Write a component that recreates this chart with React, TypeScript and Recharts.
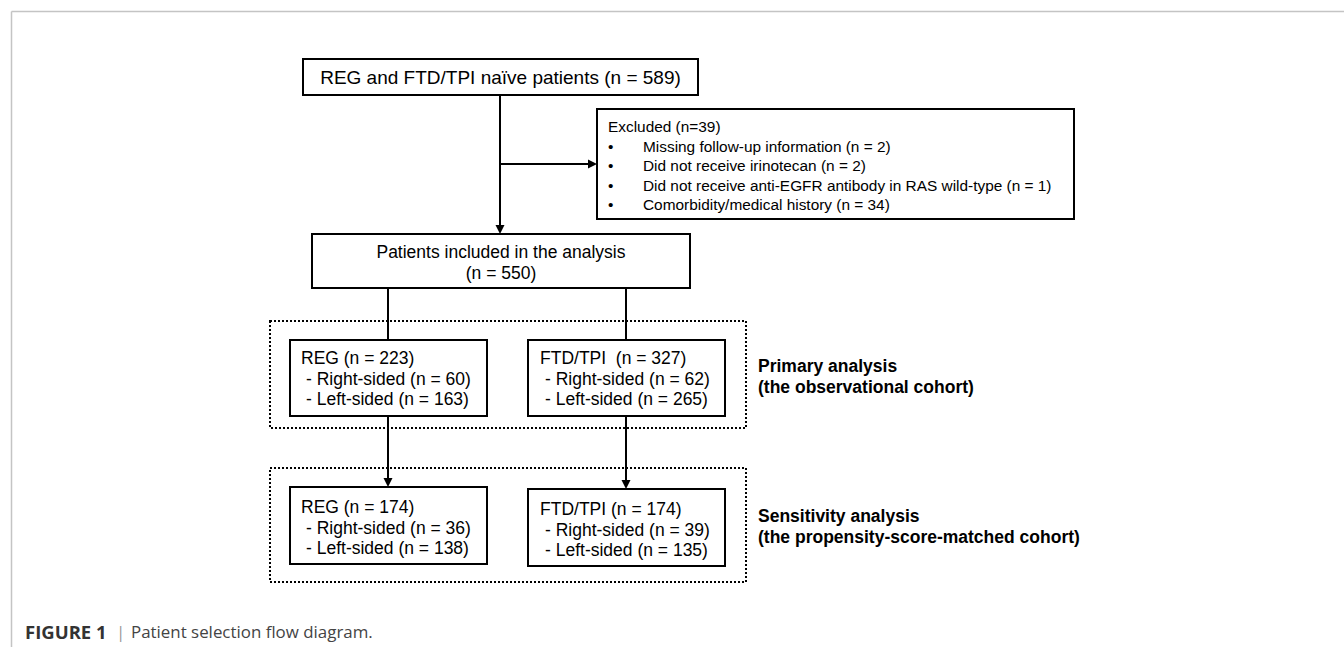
import React from 'react';
import { ScatterChart, Scatter, XAxis, YAxis, ReferenceArea, ReferenceLine } from 'recharts';

// figure content
const naiveTotal = 589;
const excludedTotal = 39;
const excludedReasons = [
    'Missing follow-up information',
    'Did not receive irinotecan',
    'Did not receive anti-EGFR antibody in RAS wild-type',
    'Comorbidity/medical history',
];
const excludedCounts = [2, 2, 1, 34];
const includedTotal = 550;
const armLabels = ['REG', 'FTD/TPI'];
const primaryTotals = [223, 327];
const primaryRight = [60, 62];
const primaryLeft = [163, 265];
const matchedTotals = [174, 174];
const matchedRight = [36, 39];
const matchedLeft = [138, 135];
const cohortTitles = ['Primary analysis', 'Sensitivity analysis'];
const cohortSubtitles = ['(the observational cohort)', '(the propensity-score-matched cohort)'];
const captionLabel = 'FIGURE 1';
const captionText = 'Patient selection flow diagram.';

const W = 1344;
const H = 647;
const FONT = '"Liberation Sans", Arial, Helvetica, sans-serif';
const CAP_FONT = '"Open Sans", Arial, sans-serif';

// layout (pixels = axis units, y axis reversed)
const boxes = [
    { x1: 303, x2: 698, y1: 59, y2: 95 },
    { x1: 597, x2: 1074, y1: 109, y2: 219 },
    { x1: 312, x2: 690, y1: 234, y2: 288 },
    { x1: 290, x2: 487, y1: 340, y2: 416 },
    { x1: 528, x2: 725, y1: 340, y2: 416 },
    { x1: 290, x2: 487, y1: 487, y2: 564 },
    { x1: 528, x2: 725, y1: 489, y2: 566 },
];
const dottedBoxes = [
    { x1: 270, x2: 746, y1: 321, y2: 428 },
    { x1: 270, x2: 746, y1: 468, y2: 582 },
];
const armX = [388, 626];
const connectors = [
    [{ x: 500, y: 95 }, { x: 500, y: 232 }],
    [{ x: 500, y: 164 }, { x: 595, y: 164 }],
    [{ x: armX[0], y: 288 }, { x: armX[0], y: 340 }],
    [{ x: armX[1], y: 288 }, { x: armX[1], y: 340 }],
    [{ x: armX[0], y: 416 }, { x: armX[0], y: 485 }],
    [{ x: armX[1], y: 416 }, { x: armX[1], y: 487 }],
];
const arrowHeads = [
    { x: 500, y: 234, dir: 'down' },
    { x: 597, y: 164, dir: 'right' },
    { x: armX[0], y: 487, dir: 'down' },
    { x: armX[1], y: 489, dir: 'down' },
];

const STYLES: Record<string, any> = {
    top: { fontSize: 19, fill: '#000' },
    box: { fontSize: 17.5, fill: '#000' },
    excl: { fontSize: 15.4, fill: '#000' },
    side: { fontSize: 17.5, fill: '#000', fontWeight: 700 },
    capLabel: { fontSize: 18.5, fill: '#333', fontWeight: 700, fontFamily: CAP_FONT },
    capBar: { fontSize: 17, fill: '#999', fontFamily: CAP_FONT },
    capText: { fontSize: 16.9, fill: '#444', fontFamily: CAP_FONT },
};

const armBoxText = (i: number, tot: number[], right: number[], left: number[], y0: number, gap: string) => {
    const x = i === 0 ? 301 : 540;
    return [
        { x, y: y0, text: `${armLabels[i]}${gap}(n = ${tot[i]})`, kind: 'box', anchor: 'start' },
        { x: x + 5, y: y0 + 20.5, text: `- Right-sided (n = ${right[i]})`, kind: 'box', anchor: 'start' },
        { x: x + 5, y: y0 + 41, text: `- Left-sided (n = ${left[i]})`, kind: 'box', anchor: 'start' },
    ];
};

const texts = [
    { x: 500.5, y: 77, text: `REG and FTD/TPI naïve patients (n = ${naiveTotal})`, kind: 'top', anchor: 'middle' },
    { x: 608, y: 126, text: `Excluded (n=${excludedTotal})`, kind: 'excl', anchor: 'start' },
    ...excludedReasons.flatMap((r, i) => [
        { x: 608, y: 146 + i * 19.5, text: '•', kind: 'excl', anchor: 'start' },
        { x: 643, y: 146 + i * 19.5, text: `${r} (n = ${excludedCounts[i]})`, kind: 'excl', anchor: 'start' },
    ]),
    { x: 501, y: 252, text: 'Patients included in the analysis', kind: 'box', anchor: 'middle' },
    { x: 501, y: 273, text: `(n = ${includedTotal})`, kind: 'box', anchor: 'middle' },
    ...armBoxText(0, primaryTotals, primaryRight, primaryLeft, 358, ' '),
    ...armBoxText(1, primaryTotals, primaryRight, primaryLeft, 358, '  '),
    ...armBoxText(0, matchedTotals, matchedRight, matchedLeft, 507, ' '),
    ...armBoxText(1, matchedTotals, matchedRight, matchedLeft, 509, ' '),
    { x: 758, y: 366, text: cohortTitles[0], kind: 'side', anchor: 'start' },
    { x: 758, y: 387, text: cohortSubtitles[0], kind: 'side', anchor: 'start' },
    { x: 758, y: 516, text: cohortTitles[1], kind: 'side', anchor: 'start' },
    { x: 758, y: 537, text: cohortSubtitles[1], kind: 'side', anchor: 'start' },
    { x: 25, y: 631, text: captionLabel, kind: 'capLabel', anchor: 'start' },
    { x: 116, y: 631, text: '|', kind: 'capBar', anchor: 'start' },
    { x: 131, y: 631, text: captionText, kind: 'capText', anchor: 'start' },
];

const TextShape = (props: any) => {
    const { cx, cy, payload } = props;
    const s = STYLES[payload.kind];
    return (
        <text
            x={cx}
            y={cy}
            textAnchor={payload.anchor}
            dominantBaseline="central"
            fontFamily={s.fontFamily || FONT}
            fontSize={s.fontSize}
            fontWeight={s.fontWeight || 400}
            fill={s.fill}
            style={{ whiteSpace: 'pre' }}
        >
            {payload.text}
        </text>
    );
};

const ArrowShape = (props: any) => {
    const { cx, cy, payload } = props;
    const pts = payload.dir === 'right'
        ? `${cx},${cy} ${cx - 9},${cy - 4.5} ${cx - 9},${cy + 4.5}`
        : `${cx},${cy} ${cx - 4.5},${cy - 9} ${cx + 4.5},${cy - 9}`;
    return <polygon points={pts} fill="#000" />;
};

export default function App() {
    return (
        <div style={{ position: 'absolute', left: 0, top: 0, width: W, height: H, background: '#fff' }}>
            <ScatterChart width={W} height={H} margin={{ top: 0, right: 0, bottom: 0, left: 0 }}>
                <XAxis type="number" dataKey="x" domain={[0, W]} hide allowDataOverflow />
                <YAxis type="number" dataKey="y" domain={[0, H]} reversed hide allowDataOverflow />
                {/* page frame */}
                <ReferenceLine segment={[{ x: 11.5, y: 11.5 }, { x: W, y: 11.5 }]} stroke="#c4c4c4" strokeWidth={1.5} />
                <ReferenceLine segment={[{ x: 11.5, y: 11.5 }, { x: 11.5, y: H }]} stroke="#c4c4c4" strokeWidth={1.5} />
                {dottedBoxes.map((b, i) => (
                    <ReferenceArea key={`d${i}`} {...b} fill="none" stroke="#000" strokeWidth={2} strokeDasharray="2 2" />
                ))}
                {boxes.map((b, i) => (
                    <ReferenceArea key={`b${i}`} {...b} fill="none" stroke="#000" strokeWidth={2} />
                ))}
                {connectors.map((seg, i) => (
                    <ReferenceLine key={`c${i}`} segment={seg} stroke="#000" strokeWidth={2} />
                ))}
                <Scatter data={arrowHeads} shape={ArrowShape} isAnimationActive={false} />
                <Scatter data={texts} shape={TextShape} isAnimationActive={false} />
            </ScatterChart>
        </div>
    );
}
